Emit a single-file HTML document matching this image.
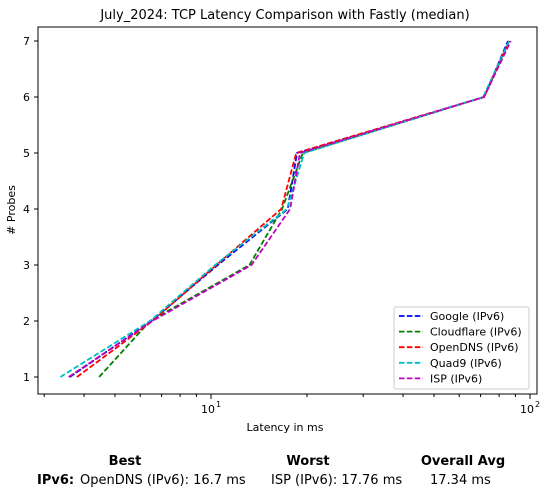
<!DOCTYPE html>
<html><head><meta charset="utf-8"><style>
body{margin:0;background:#fff;font-family:"Liberation Sans","DejaVu Sans",sans-serif;}
svg text{font-family:"DejaVu Sans","Liberation Sans",sans-serif;}
</style></head><body>
<svg id="chart" width="547" height="496" xmlns="http://www.w3.org/2000/svg">
<rect width="547" height="496" fill="#fff"/>
<text x="285" y="19" font-size="13" text-anchor="middle">July_2024: TCP Latency Comparison with Fastly (median)</text>
<g id="plot"></g>
<rect x="38" y="27" width="499" height="367" fill="none" stroke="#000" stroke-width="1"/>
<text x="285" y="431" font-size="11" text-anchor="middle">Latency in ms</text>
<text transform="translate(15,210) rotate(-90)" font-size="11" text-anchor="middle"># Probes</text>
<g id="legend"></g>
<g font-size="13">
<text x="125" y="465" text-anchor="middle" font-weight="bold">Best</text>
<text x="308" y="465" text-anchor="middle" font-weight="bold">Worst</text>
<text x="463" y="465" text-anchor="middle" font-weight="bold">Overall Avg</text>
<text x="37" y="484" font-weight="bold">IPv6:</text>
<text x="80" y="484">OpenDNS (IPv6): 16.7 ms</text>
<text x="271" y="484">ISP (IPv6): 17.76 ms</text>
<text x="430" y="484">17.34 ms</text>
</g>
</svg>
<script>
const probes=[1,2,3,4,5,6,7];
const seriesNames=["Google (IPv6)","Cloudflare (IPv6)","OpenDNS (IPv6)","Quad9 (IPv6)","ISP (IPv6)"];
const seriesColors=["#0000ff","#008000","#ff0000","#00bfbf","#bf00bf"];
const google=[3.61,6.5,10.5,17.4,18.6,71.8,85.3];
const cloudflare=[4.46,6.44,13.2,16.7,19.4,71.8,86];
const opendns=[3.80,6.55,10.4,16.6,18.5,71.8,86];
const quad9=[3.37,6.44,10.3,17.3,19.6,71.3,86];
const isp=[3.58,6.55,13.4,17.7,19.0,71.8,87];
const xTicks=[10,100];
const xTickLabels=["10","10"];
const yTicks=[1,2,3,4,5,6,7];
const allSeries=[google,cloudflare,opendns,quad9,isp];
const NS="http://www.w3.org/2000/svg";
function xs(v){return 211+319*Math.log10(v/10);}
function ys(v){return 377-(v-1)*56;}
const plot=document.getElementById('plot');
function mk(tag,attrs,parent){const e=document.createElementNS(NS,tag);for(const k in attrs)e.setAttribute(k,attrs[k]);parent.appendChild(e);return e;}
yTicks.forEach(t=>{
  const l=mk('line',{x1:34,x2:38,y1:ys(t),y2:ys(t),stroke:'#000'},plot);
  
  
  const tx=mk('text',{x:30,y:ys(t)+4,'font-size':11,'text-anchor':'end'},plot);
  tx.textContent=t;
  
  
});
xTicks.forEach((t,i)=>{
  const l=mk('line',{x1:xs(t),x2:xs(t),y1:394,y2:399,stroke:'#000'},plot);
  
  
  const tx=mk('text',{x:xs(t)-3,y:413,'font-size':11,'text-anchor':'middle'},plot);
  tx.textContent=xTickLabels[i];
  
  
  const sp=mk('text',{x:xs(t)+5,y:407,'font-size':8},plot);
  sp.textContent=String(i+1);
  
  
});
[3,4,5,6,7,8,9,20,30,40,50,60,70,80,90].forEach(v=>{
  const l=mk('line',{x1:xs(v),x2:xs(v),y1:394,y2:397,stroke:'#000'},plot);
  
  
});
allSeries.forEach((s,i)=>{
  const pts=s.map((v,j)=>xs(v)+','+ys(probes[j])).join(' ');
  const p=mk('polyline',{points:pts,fill:'none',stroke:seriesColors[i],'stroke-width':1.8,'stroke-dasharray':'5.5,2.4'},plot);
  
  
});
const lg=document.getElementById('legend');
const box=mk('rect',{x:394,y:307,width:135,height:82,fill:'#fff',stroke:'#ccc',rx:2},lg);


seriesNames.forEach((n,i)=>{
  const y=316+i*15.6;
  const l=mk('line',{x1:399,x2:423,y1:y,y2:y,stroke:seriesColors[i],'stroke-width':1.8,'stroke-dasharray':'5.5,2.4'},lg);
  
  
  const t=mk('text',{x:430,y:y+4,'font-size':11},lg);
  t.textContent=n;
  
  
});
</script>
</body></html>
